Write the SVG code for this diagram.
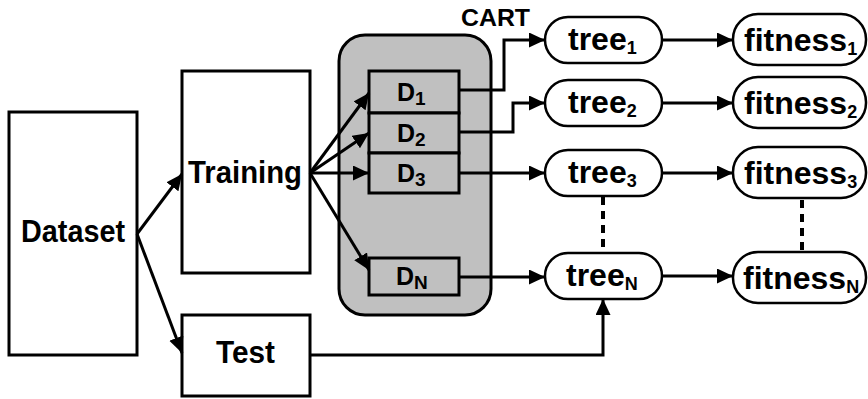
<svg xmlns="http://www.w3.org/2000/svg" width="868" height="399" viewBox="0 0 868 399">
<style>
text{font-family:"Liberation Sans",Arial,sans-serif;font-weight:bold;fill:#000}
.box{fill:#fff;stroke:#000;stroke-width:3}
.d{fill:#c0c0c0;stroke:#000;stroke-width:3}
.pill{fill:#fff;stroke:#000;stroke-width:2.5}
.big{font-size:31px}
.node{font-size:32px}
.dt{font-size:25px}
.sub{font-size:18px}
.dsub{font-size:19px}
.c{fill:none;stroke:#000;stroke-width:3}
.dash{fill:none;stroke:#000;stroke-width:4;stroke-dasharray:8 6}
</style>
<defs>
<marker id="ah" markerUnits="userSpaceOnUse" markerWidth="18" markerHeight="16" refX="16" refY="7.5" orient="auto">
<path d="M0,0 L16,7.5 L0,15 z" fill="#000"/>
</marker>
</defs>
<rect width="868" height="399" fill="#fff"/>
<g id="dataset"><rect class="box" x="9" y="112" width="128" height="243"/><text class="big" x="21" y="242" textLength="104" lengthAdjust="spacingAndGlyphs">Dataset</text></g>
<g id="training"><rect class="box" x="182" y="71" width="128" height="202"/><text class="big" x="188" y="183" textLength="114" lengthAdjust="spacingAndGlyphs">Training</text></g>
<g id="test"><rect class="box" x="182" y="315" width="128" height="81"/><text class="big" x="216" y="363" textLength="59" lengthAdjust="spacingAndGlyphs">Test</text></g>
<g id="group"><rect x="339" y="35" width="152" height="280" rx="26" fill="#c0c0c0" stroke="#000" stroke-width="3"/></g>
<g id="d1"><rect class="d" x="369" y="71" width="90" height="42"/><text class="dt" x="397" y="101">D<tspan class="dsub" dy="4">1</tspan></text></g>
<g id="d2"><rect class="d" x="369" y="113" width="90" height="40"/><text class="dt" x="397" y="142">D<tspan class="dsub" dy="4">2</tspan></text></g>
<g id="d3"><rect class="d" x="369" y="153" width="90" height="40"/><text class="dt" x="397" y="182">D<tspan class="dsub" dy="4">3</tspan></text></g>
<g id="dn"><rect class="d" x="369" y="258" width="90" height="37"/><text class="dt" x="396" y="285">D<tspan class="dsub" dy="4">N</tspan></text></g>
<text style="font-size:24px" x="461" y="26" textLength="69" lengthAdjust="spacingAndGlyphs">CART</text>
<g id="tree1"><rect class="pill" x="545" y="17" width="117" height="46" rx="23"/><text class="node" x="568" y="50">tree<tspan class="sub" dy="4">1</tspan></text></g>
<g id="tree2"><rect class="pill" x="545" y="80" width="117" height="46" rx="23"/><text class="node" x="568" y="113">tree<tspan class="sub" dy="4">2</tspan></text></g>
<g id="tree3"><rect class="pill" x="545" y="150" width="117" height="46" rx="23"/><text class="node" x="568" y="183">tree<tspan class="sub" dy="4">3</tspan></text></g>
<g id="treeN"><rect class="pill" x="545" y="253" width="117" height="46" rx="23"/><text class="node" x="566" y="286">tree<tspan class="sub" dy="4">N</tspan></text></g>
<g id="fitness1"><rect class="pill" x="733" y="14" width="133" height="51" rx="25"/><text class="node" x="744" y="51">fitness<tspan class="sub" dy="4">1</tspan></text></g>
<g id="fitness2"><rect class="pill" x="733" y="77" width="133" height="51" rx="25"/><text class="node" x="744" y="114">fitness<tspan class="sub" dy="4">2</tspan></text></g>
<g id="fitness3"><rect class="pill" x="733" y="147" width="133" height="51" rx="25"/><text class="node" x="744" y="184">fitness<tspan class="sub" dy="4">3</tspan></text></g>
<g id="fitnessN"><rect class="pill" x="733" y="252" width="133" height="51" rx="25"/><text class="node" x="743" y="289">fitness<tspan class="sub" dy="4">N</tspan></text></g>
<g id="connectors">
<path class="c" d="M137,234 L182,174" marker-end="url(#ah)"/>
<path class="c" d="M137,234 L182,353" marker-end="url(#ah)"/>
<path class="c" d="M310,173 L369,93" marker-end="url(#ah)"/>
<path class="c" d="M310,173 L369,133" marker-end="url(#ah)"/>
<path class="c" d="M310,173 L369,173" marker-end="url(#ah)"/>
<path class="c" d="M310,173 L369,270" marker-end="url(#ah)"/>
<path class="c" d="M459,90 H504 V40 H545" marker-end="url(#ah)"/>
<path class="c" d="M459,132 H513 V103 H545" marker-end="url(#ah)"/>
<path class="c" d="M459,173 H545" marker-end="url(#ah)"/>
<path class="c" d="M459,277 H545" marker-end="url(#ah)"/>
<path class="c" d="M662,40 H733" marker-end="url(#ah)"/>
<path class="c" d="M662,103 H733" marker-end="url(#ah)"/>
<path class="c" d="M662,173 H733" marker-end="url(#ah)"/>
<path class="c" d="M662,276 H733" marker-end="url(#ah)"/>
<path class="c" d="M310,355 H603 V299" marker-end="url(#ah)"/>
<path class="dash" d="M603,197 V253"/>
<path class="dash" d="M802,200 V252"/>
</g>
</svg>
